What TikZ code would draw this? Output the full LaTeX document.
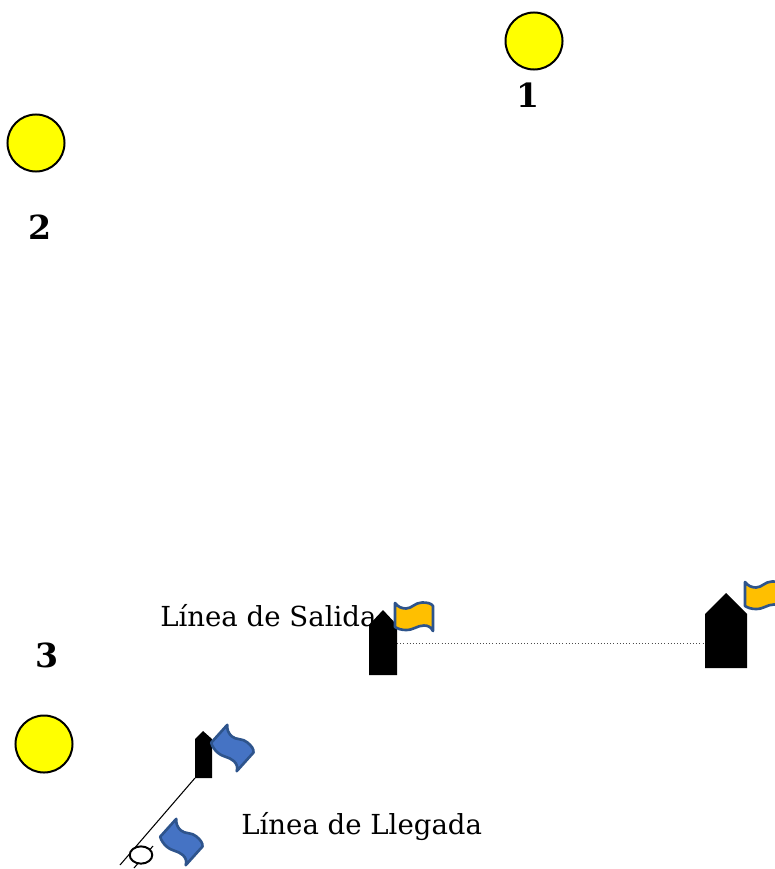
\documentclass[tikz,border=0pt]{standalone}
\usepackage{fontspec}
\setmainfont{DejaVu Serif}
\usetikzlibrary{positioning,calc,shapes.geometric}
\definecolor{buoyyellow}{rgb}{1.0, 1.0, 0.0}
\definecolor{flagorange}{rgb}{1.0, 0.75, 0.0}
\definecolor{flagblue}{rgb}{0.27, 0.45, 0.77}
\definecolor{flagedge}{rgb}{0.18, 0.33, 0.55}
\tikzstyle{buoy} = [circle, draw=black, line width=1.5pt, fill=buoyyellow, minimum size=43pt, inner sep=0pt]
\tikzstyle{num} = [font=\fontsize{25}{25}\selectfont\bfseries, inner sep=0pt]
\tikzstyle{lineaname} = [font=\fontsize{20.8}{20.8}\selectfont, inner sep=0pt, anchor=west]
\tikzstyle{boat} = [fill=black, draw=none]
\tikzset{
  wavyflag/.pic={
    \path[pic actions, line width=2pt, line join=round]
    (-19,-14) .. controls (-16,-10) and (-12,-8.5) .. (-8,-8.5)
    .. controls (-2,-8.5) and (1,-14.5) .. (8,-14.5)
    .. controls (13,-14.5) and (17,-14) .. (19,-11) -- (19,14)
    .. controls (17,10) and (14,8.5) .. (10,8.5)
    .. controls (3,8.5) and (0,13) .. (-8,13)
    .. controls (-12,13) and (-16,12) .. (-19,10) -- cycle;
  }
}
\begin{document}
\begin{tikzpicture}[x=0.0265cm,y=-0.0265cm]
\useasboundingbox (0,0) rectangle (774,869);
\node (b1) [buoy] at (534,41) {};
\node (b2) [buoy] at (36,143) {};
\node (b3) [buoy] at (44,744) {};
\node (n1) [num] at (528,95) {1};
\node (n2) [num] at (40,227) {2};
\node (n3) [num] at (47,655) {3};
\node (salida) [lineaname] at (160,616) {Línea de Salida};
\node (llegada) [lineaname] at (241,827) {Línea de Llegada};
% start line
\coordinate (s1) at (397,643);
\coordinate (s2) at (705,643);
\draw [dotted, line width=0.4pt, black!70] (s1)--(s2);
\fill [boat] (369,675)--(369,625)--(383,610)--(397,625)--(397,675)--cycle;
\fill [boat] (705,668)--(705,614)--(726,593)--(747,614)--(747,668)--cycle;
\pic [draw=flagedge, fill=flagorange] at (414,617) {wavyflag};
\pic [draw=flagedge, fill=flagorange] at (764,596) {wavyflag};
% finish line
\coordinate (f1) at (195,778);
\coordinate (f2) at (120,865);
\coordinate (f3) at (153,846);
\coordinate (f4) at (134,868);
\draw [line width=0.8pt] (f1)--(f2);
\draw [line width=0.8pt] (f3)--(f4);
\node (mark) [ellipse, draw=black, line width=1.5pt, fill=white, minimum width=17pt, minimum height=13pt, inner sep=0pt] at (141,855) {};
\fill [boat] (195,778)--(195,739)--(203,731)--(212,739)--(212,778)--cycle;
\pic [draw=flagedge, fill=flagblue, rotate=-42] at (232,748) {wavyflag};
\pic [draw=flagedge, fill=flagblue, rotate=-42] at (181,842) {wavyflag};
\end{tikzpicture}
\end{document}
